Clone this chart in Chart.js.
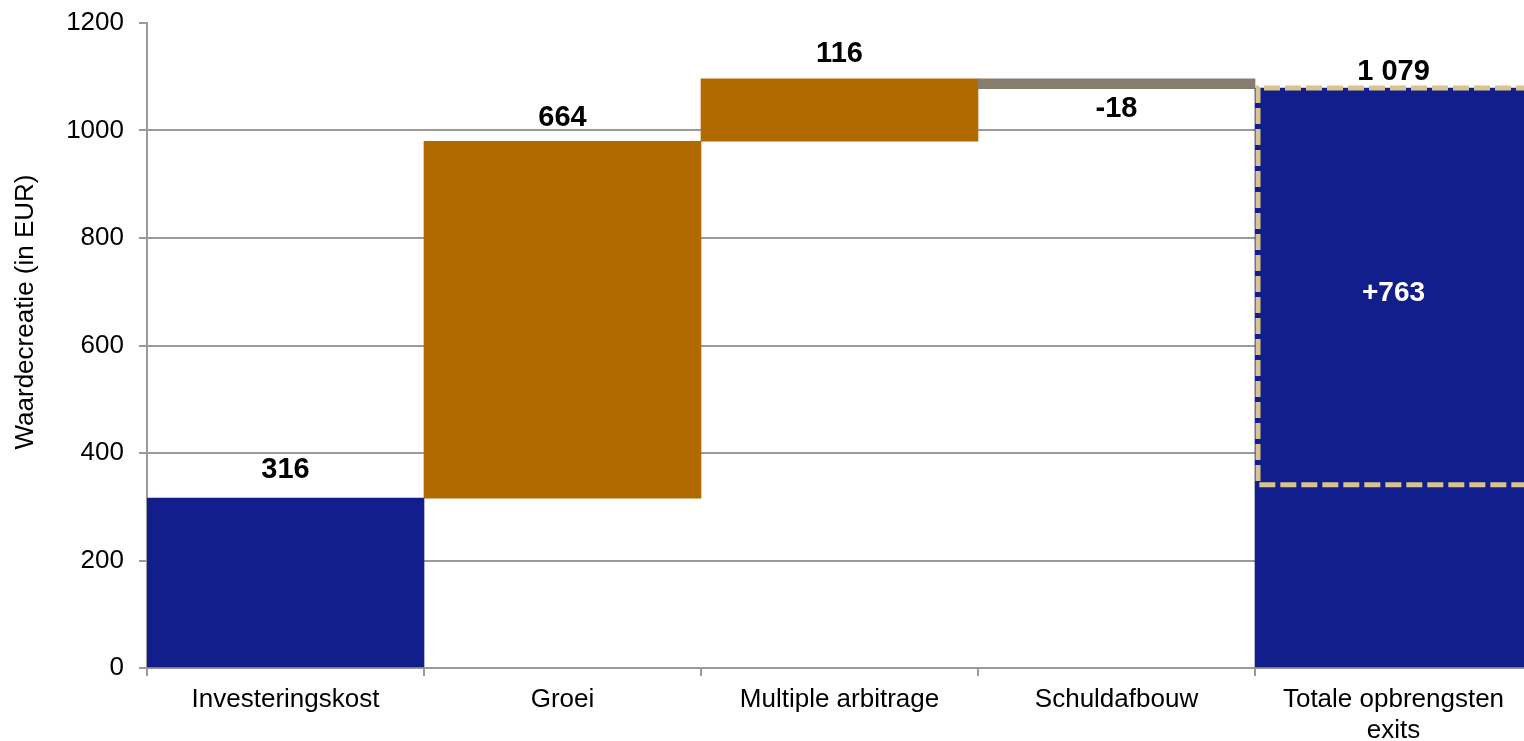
<!DOCTYPE html>
<html>
<head>
<meta charset="utf-8">
<script src="https://cdn.jsdelivr.net/npm/chart.js@4.4.1/dist/chart.umd.min.js"></script>
<style>
  html, body { margin: 0; padding: 0; overflow: hidden; background: #ffffff; }
  #wrap { position: relative; width: 1532px; height: 741px; }
</style>
</head>
<body>
<div id="wrap"><canvas id="c"></canvas></div>
<script>
// ---- data ----
const categories = ['Investeringskost', 'Groei', 'Multiple arbitrage', 'Schuldafbouw', ['Totale opbrengsten', 'exits']];
const changes = [316, 664, 116, -18, 1079];
const isTotal = [true, false, false, false, true];
const yTicks = [0, 200, 400, 600, 800, 1000, 1200];
const highlightRange = [341, 1079];   // dashed box on the total bar
const highlightLabel = '+763';
const yTitle = 'Waardecreatie (in EUR)';

// ---- build floating ranges ----
const ranges = [];
let run = 0;
changes.forEach((v, i) => {
  if (isTotal[i]) { ranges.push([0, v]); run = v; }
  else { ranges.push([run, run + v]); run += v; }
});

const NAVY = '#121E8C', BROWN = '#B06A00', GREY = '#877D6C', BEIGE = '#D8C48F';
const barColors = changes.map((v, i) => isTotal[i] ? NAVY : (v < 0 ? GREY : BROWN));
const FONT = "'Liberation Sans', Arial, Helvetica, sans-serif";

function fmt(n) {
  const s = String(Math.abs(n)).replace(/\B(?=(\d{3})+(?!\d))/g, ' ');
  return (n < 0 ? '-' : '') + s;
}

const labelPlugin = {
  id: 'wfLabels',
  afterDatasetsDraw(chart) {
    const ctx = chart.ctx;
    const y = chart.scales.y;
    const meta = chart.getDatasetMeta(0);
    const above = [28, 23, 25, 0, 16];
    ctx.save();
    // dashed highlight box
    const last = meta.data[meta.data.length - 1];
    const left = last.x - last.width / 2 + 3;
    const right = last.x + last.width / 2;
    const yTop = y.getPixelForValue(highlightRange[1]);
    const yBot = y.getPixelForValue(highlightRange[0]);
    ctx.strokeStyle = BEIGE;
    ctx.lineWidth = 5;
    ctx.setLineDash([16, 5]);
    ctx.beginPath();
    ctx.moveTo(right, yTop); ctx.lineTo(left, yTop); ctx.lineTo(left, yBot); ctx.lineTo(right, yBot);
    ctx.stroke();
    ctx.setLineDash([]);
    // highlight label
    ctx.fillStyle = '#ffffff';
    ctx.font = 'bold 28px ' + FONT;
    ctx.textAlign = 'center';
    ctx.textBaseline = 'middle';
    ctx.fillText(highlightLabel, last.x, (yTop + yBot) / 2 + 7);
    // value labels
    ctx.fillStyle = '#000000';
    ctx.font = 'bold 29px ' + FONT;
    meta.data.forEach((bar, i) => {
      const v = changes[i];
      const r = ranges[i];
      let py;
      if (v < 0) py = y.getPixelForValue(Math.min(r[0], r[1])) + 20;
      else py = y.getPixelForValue(Math.max(r[0], r[1])) - above[i];
      ctx.fillText(fmt(v), bar.x, py);
    });
    // y axis title
    ctx.save();
    ctx.translate(26, 312);
    ctx.rotate(-Math.PI / 2);
    ctx.font = '26px ' + FONT;
    ctx.fillStyle = '#000000';
    ctx.fillText(yTitle, 0, 0);
    ctx.restore();
    ctx.restore();
  }
};

new Chart(document.getElementById('c'), {
  type: 'bar',
  data: {
    labels: categories,
    datasets: [{
      data: ranges,
      backgroundColor: barColors,
      borderWidth: 0,
      borderSkipped: false,
      barPercentage: 1,
      categoryPercentage: 1
    }]
  },
  options: {
    responsive: true,
    maintainAspectRatio: false,
    animation: false,
    layout: { padding: { top: 23, left: 0, right: 0, bottom: 0 } },
    plugins: { legend: { display: false }, tooltip: { enabled: false } },
    scales: {
      x: {
        offset: true,
        grid: { display: true, drawOnChartArea: false, drawTicks: true, offset: true, tickLength: 8, color: '#9a9a9a', lineWidth: 2 },
        border: { display: true, color: '#9a9a9a', width: 2 },
        ticks: { color: '#000000', font: { family: FONT, size: 26 }, padding: 8, maxRotation: 0, autoSkip: false },
        afterFit(s) { s.height = 741 - 668; s.paddingLeft = 0; s.paddingRight = 0; }
      },
      y: {
        min: 0, max: 1200,
        afterBuildTicks(s) { s.ticks = yTicks.map(v => ({ value: v })); },
        grid: {
          color: ctx => (ctx.tick && (ctx.tick.value === 1200 || ctx.tick.value === 0)) ? 'rgba(0,0,0,0)' : '#9a9a9a',
          tickColor: '#9a9a9a',
          lineWidth: 2,
          tickLength: 8
        },
        border: { display: true, color: '#9a9a9a', width: 2 },
        ticks: { color: '#000000', font: { family: FONT, size: 26 }, padding: 15, callback: v => String(v) },
        afterFit(s) { s.width = 147; s.paddingTop = 0; s.paddingBottom = 0; }
      }
    }
  },
  plugins: [labelPlugin]
});
</script>
</body>
</html>
